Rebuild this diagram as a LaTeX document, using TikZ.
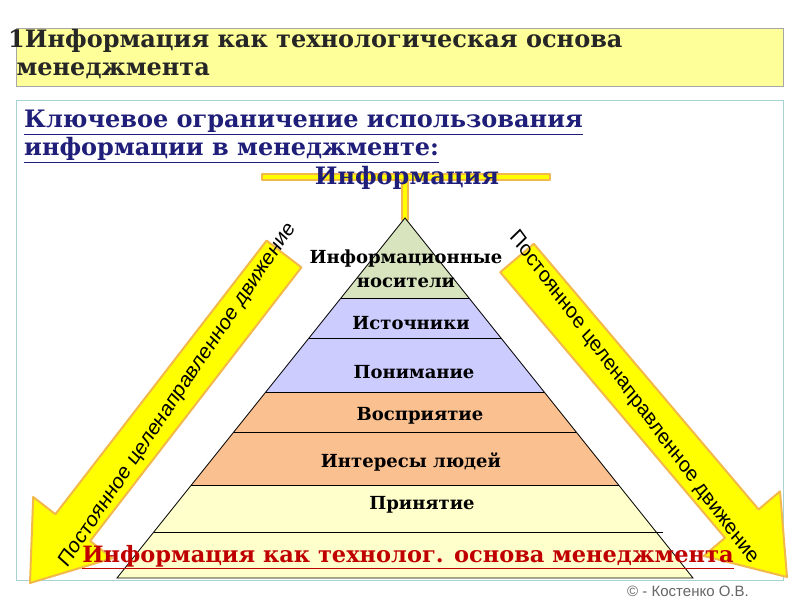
\documentclass[tikz,border=0pt]{standalone}
\usepackage{fontspec}
\setmainfont{DejaVu Serif}
\newfontfamily\arial{Liberation Sans}
\definecolor{titlebg}{HTML}{FFFF99}
\definecolor{navy}{HTML}{1F1F7A}
\definecolor{lgreen}{HTML}{D7E4BD}
\definecolor{lblue}{HTML}{CCCCFF}
\definecolor{lorange}{HTML}{FAC090}
\definecolor{lyell}{HTML}{FFFFCC}
\definecolor{arrfill}{HTML}{FFFF00}
\definecolor{arrline}{HTML}{F2B94A}
\definecolor{redtxt}{HTML}{C00000}
\tikzset{
  arr/.style={fill=arrfill,draw=arrline,line width=2pt,line join=round},
  lab/.style={font=\bfseries\fontsize{18}{24}\selectfont,align=center,inner sep=0},
  arrtxt/.style={font=\arial\fontsize{22}{24}\selectfont,inner sep=0,xscale=0.87},
}
\begin{document}
\begin{tikzpicture}[x=1pt,y=-1pt]
\useasboundingbox (0,0) rectangle (800,600);
\fill[white] (0,0) rectangle (800,600);
% title box
\draw[fill=titlebg,draw=gray!70] (16,28) rectangle (783,86);
\node[anchor=north west,align=left,inner sep=0,font=\bfseries\fontsize{24}{28}\selectfont,text=black!85] (title) at (8,29) {1Информация как технологическая основа\\\ менеджмента};
% main box
\draw[draw=teal!35,line width=1pt] (16,100) rectangle (783,580);
\node[anchor=north west,align=left,inner sep=0,font=\bfseries\fontsize{24}{28}\selectfont,text=navy] (sub) at (24,110) {\underline{Ключевое ограничение использования}\\\underline{информации в менеджменте:}};
% yellow T bar
\draw[arr,line width=1.2pt] (262,174) rectangle (550,180);
\draw[arr,line width=1.2pt] (402,180) rectangle (408,220);
\fill[arrfill] (402.6,175) rectangle (407.4,181);
\node[font=\bfseries\fontsize{24}{26}\selectfont,text=navy,inner sep=0] (info) at (407,178) {Информация};
% arrows
\draw[arr] (301.4,267.4) -- (266.6,240.6) -- (55.4,514.2) -- (33.2,497.0) -- (30,583) -- (112.4,558.2) -- (90.2,541.0) -- cycle;
\node[arrtxt,rotate=52.3] (la) at (178,395) {Постоянное целенаправленное движение};
\draw[arr] (533.8,243.8) -- (500.2,272.2) -- (725,537.8) -- (703.7,555.9) -- (787,577) -- (780,491.3) -- (758.6,509.4) -- cycle;
\node[arrtxt,rotate=-49.7] (ra) at (634,398) {Постоянное целенаправленное движение};
% pyramid
\fill[lgreen] (405,218) -- (469,298) -- (341,298) -- cycle;
\fill[lblue] (341,298) -- (469,298) -- (544.2,392) -- (265.8,392) -- cycle;
\fill[lorange] (265.8,392) -- (544.2,392) -- (618.6,485) -- (191.4,485) -- cycle;
\fill[lyell] (191.4,485) -- (618.6,485) -- (693,578) -- (117,578) -- cycle;
\draw[line width=0.8pt] (405,218) -- (693,578) -- (117,578) -- cycle;
\foreach \ya/\xa/\xb in {298/341/469,338/309/501,392/265.8/544.2,432/233.8/576.2,485/191.4/618.6,532/153.8/663}
  \draw[line width=0.8pt] (\xa,\ya) -- (\xb,\ya);
\node[lab] (l1) at (406,269) {Информационные\\носители};
\node[lab] (l2) at (411,323) {Источники};
\node[lab] (l3) at (414,372) {Понимание};
\node[lab] (l4) at (420,416) {Восприятие};
\node[lab] (l5) at (411,462) {Интересы людей};
\node[lab] (l6) at (422,505) {Принятие};
\node[font=\bfseries\fontsize{22.5}{26}\selectfont,text=redtxt,inner sep=0] (bot) at (408,557) {\underline{Информация как технолог. основа менеджмента}};
\node[font=\arial\fontsize{15}{18}\selectfont,text=gray!80!black,inner sep=0] (copy) at (688,591) {© - Костенко О.В.};
\end{tikzpicture}
\end{document}
